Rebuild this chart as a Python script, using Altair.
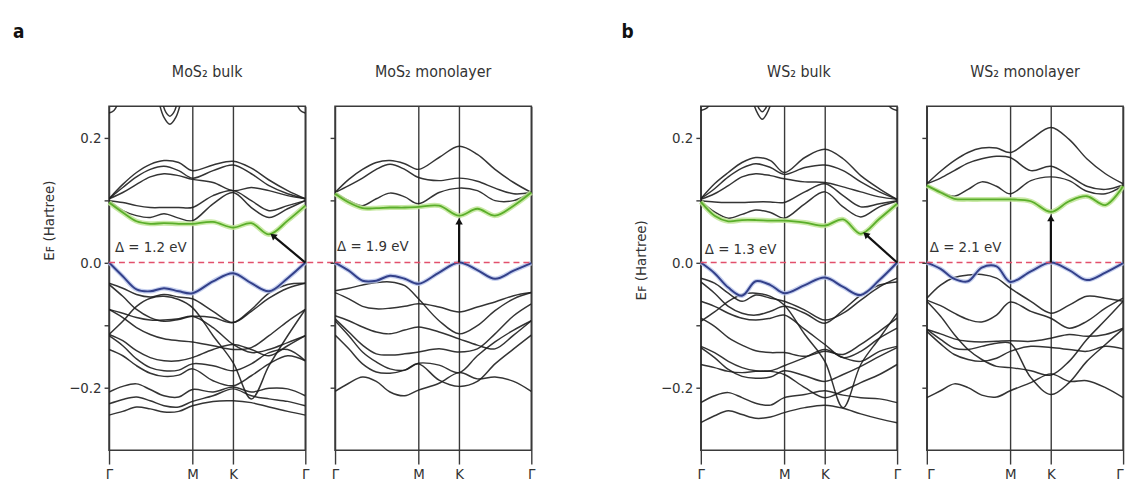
import math
import altair as alt
import pandas as pd

# ---------------- data (energies in Hartree) ----------------
K_FRAC = [0.0, 0.07, 0.14, 0.21, 0.28, 0.355, 0.425, 0.53, 0.632, 0.725, 0.815, 0.91, 1.0]
K_TICKS = [0.0, 0.425, 0.632, 1.0]
K_LABELS = ["Γ", "M", "K", "Γ"]
Y_TICKS = [-0.2, -0.1, 0.0, 0.1, 0.2]
Y_DOMAIN = [-0.30, 0.25]

# ---- MoS2 bulk ----
MOS2_BULK_CB = [
    [0.102, 0.125, 0.144, 0.157, 0.163, 0.160, 0.147, 0.156, 0.162, 0.151, 0.132, 0.115, 0.102],
    [0.102, 0.120, 0.137, 0.149, 0.154, 0.147, 0.135, 0.147, 0.156, 0.142, 0.123, 0.110, 0.102],
    [0.102, 0.112, 0.125, 0.137, 0.142, 0.139, 0.133, 0.128, 0.115, 0.120, 0.115, 0.107, 0.102],
    [0.099, 0.096, 0.091, 0.088, 0.088, 0.088, 0.088, 0.107, 0.115, 0.099, 0.083, 0.091, 0.099],
    [0.099, 0.083, 0.075, 0.072, 0.078, 0.071, 0.067, 0.094, 0.112, 0.088, 0.072, 0.086, 0.099],
]
MOS2_BULK_LCB = [0.096, 0.080, 0.066, 0.062, 0.063, 0.062, 0.062, 0.065, 0.056, 0.063, 0.045, 0.067, 0.091]
MOS2_BULK_HVB = [0.0, -0.022, -0.043, -0.046, -0.041, -0.046, -0.049, -0.030, -0.017, -0.033, -0.046, -0.025, 0.0]
MOS2_BULK_VB = [
    [-0.033, -0.041, -0.051, -0.055, -0.051, -0.055, -0.058, -0.078, -0.096, -0.078, -0.057, -0.041, -0.033],
    [-0.035, -0.054, -0.075, -0.088, -0.094, -0.091, -0.086, -0.088, -0.096, -0.075, -0.049, -0.035, -0.033],
    [-0.115, -0.094, -0.070, -0.057, -0.054, -0.059, -0.072, -0.117, -0.160, -0.218, -0.165, -0.117, -0.075],
    [-0.075, -0.088, -0.104, -0.115, -0.122, -0.125, -0.127, -0.133, -0.139, -0.136, -0.117, -0.094, -0.075],
    [-0.075, -0.081, -0.088, -0.092, -0.092, -0.090, -0.086, -0.104, -0.131, -0.144, -0.139, -0.128, -0.117],
    [-0.115, -0.125, -0.141, -0.152, -0.157, -0.157, -0.152, -0.139, -0.131, -0.139, -0.149, -0.133, -0.117],
    [-0.117, -0.133, -0.154, -0.168, -0.173, -0.172, -0.162, -0.165, -0.173, -0.162, -0.144, -0.139, -0.157],
    [-0.139, -0.149, -0.165, -0.177, -0.182, -0.180, -0.170, -0.189, -0.197, -0.181, -0.162, -0.149, -0.157],
    [-0.207, -0.198, -0.194, -0.203, -0.213, -0.215, -0.203, -0.207, -0.199, -0.207, -0.201, -0.202, -0.213],
    [-0.226, -0.219, -0.215, -0.221, -0.229, -0.231, -0.222, -0.213, -0.202, -0.213, -0.218, -0.222, -0.229],
    [-0.244, -0.238, -0.231, -0.234, -0.239, -0.238, -0.229, -0.222, -0.221, -0.224, -0.231, -0.238, -0.244],
]
MOS2_BULK_HIGH_K = [[0.0, 0.025, 0.05], [0.25, 0.28, 0.31, 0.34, 0.37], [0.27, 0.29, 0.31, 0.33, 0.35], [0.95, 0.975, 1.0]]
MOS2_BULK_HIGH_E = [[0.239, 0.243, 0.258], [0.262, 0.232, 0.221, 0.232, 0.262], [0.258, 0.240, 0.234, 0.240, 0.258], [0.258, 0.243, 0.239]]

# ---- MoS2 monolayer ----
MOS2_MONO_CB = [
    [0.112, 0.133, 0.149, 0.160, 0.163, 0.158, 0.149, 0.168, 0.186, 0.173, 0.149, 0.128, 0.112],
    [0.112, 0.123, 0.135, 0.149, 0.157, 0.149, 0.136, 0.131, 0.135, 0.130, 0.119, 0.110, 0.112],
    [0.112, 0.099, 0.091, 0.102, 0.111, 0.105, 0.094, 0.112, 0.119, 0.115, 0.099, 0.099, 0.112],
]
MOS2_MONO_LCB = [0.110, 0.096, 0.087, 0.087, 0.088, 0.088, 0.089, 0.091, 0.075, 0.086, 0.075, 0.091, 0.112]
MOS2_MONO_HVB = [0.0, -0.013, -0.029, -0.029, -0.021, -0.026, -0.034, -0.016, 0.0, -0.012, -0.026, -0.013, -0.001]
MOS2_MONO_VB = [
    [-0.045, -0.041, -0.036, -0.032, -0.031, -0.037, -0.058, -0.093, -0.114, -0.101, -0.077, -0.058, -0.048],
    [-0.048, -0.058, -0.070, -0.074, -0.073, -0.070, -0.066, -0.071, -0.079, -0.071, -0.063, -0.053, -0.048],
    [-0.085, -0.093, -0.103, -0.111, -0.114, -0.108, -0.103, -0.111, -0.122, -0.132, -0.138, -0.116, -0.093],
    [-0.090, -0.111, -0.132, -0.146, -0.148, -0.146, -0.143, -0.138, -0.143, -0.138, -0.114, -0.085, -0.066],
    [-0.093, -0.117, -0.143, -0.159, -0.170, -0.172, -0.161, -0.164, -0.176, -0.149, -0.127, -0.108, -0.093],
    [-0.116, -0.138, -0.162, -0.175, -0.177, -0.172, -0.162, -0.188, -0.198, -0.190, -0.162, -0.138, -0.116],
    [-0.206, -0.193, -0.183, -0.190, -0.207, -0.213, -0.204, -0.193, -0.176, -0.186, -0.183, -0.190, -0.206],
]

# ---- WS2 bulk ----
WS2_BULK_CB = [
    [0.102, 0.126, 0.144, 0.160, 0.168, 0.163, 0.144, 0.168, 0.181, 0.166, 0.139, 0.118, 0.101],
    [0.102, 0.118, 0.137, 0.151, 0.158, 0.152, 0.141, 0.152, 0.156, 0.147, 0.129, 0.113, 0.101],
    [0.101, 0.110, 0.123, 0.137, 0.142, 0.139, 0.134, 0.129, 0.128, 0.121, 0.113, 0.105, 0.101],
    [0.099, 0.097, 0.096, 0.096, 0.097, 0.097, 0.096, 0.113, 0.126, 0.107, 0.089, 0.094, 0.099],
    [0.098, 0.081, 0.071, 0.077, 0.084, 0.080, 0.071, 0.094, 0.113, 0.089, 0.073, 0.089, 0.098],
]
WS2_BULK_LCB = [0.097, 0.075, 0.066, 0.068, 0.068, 0.067, 0.067, 0.064, 0.059, 0.069, 0.046, 0.070, 0.094]
WS2_BULK_HVB = [0.0, -0.017, -0.040, -0.053, -0.030, -0.036, -0.049, -0.036, -0.024, -0.039, -0.052, -0.028, 0.0]
WS2_BULK_VB = [
    [-0.025, -0.033, -0.049, -0.062, -0.052, -0.057, -0.062, -0.076, -0.092, -0.081, -0.060, -0.039, -0.025],
    [-0.031, -0.049, -0.070, -0.081, -0.084, -0.078, -0.070, -0.081, -0.097, -0.076, -0.052, -0.036, -0.031],
    [-0.094, -0.079, -0.062, -0.051, -0.049, -0.054, -0.068, -0.115, -0.158, -0.232, -0.163, -0.121, -0.081],
    [-0.089, -0.102, -0.120, -0.132, -0.141, -0.144, -0.144, -0.150, -0.142, -0.147, -0.131, -0.110, -0.089],
    [-0.062, -0.070, -0.081, -0.089, -0.092, -0.089, -0.084, -0.107, -0.131, -0.152, -0.142, -0.121, -0.105],
    [-0.134, -0.144, -0.158, -0.168, -0.173, -0.173, -0.165, -0.152, -0.139, -0.152, -0.158, -0.142, -0.134],
    [-0.136, -0.152, -0.171, -0.182, -0.185, -0.183, -0.173, -0.181, -0.190, -0.179, -0.166, -0.150, -0.136],
    [-0.163, -0.168, -0.174, -0.176, -0.174, -0.174, -0.179, -0.200, -0.216, -0.205, -0.192, -0.179, -0.163],
    [-0.224, -0.213, -0.208, -0.216, -0.225, -0.228, -0.216, -0.211, -0.205, -0.212, -0.216, -0.218, -0.224],
    [-0.256, -0.245, -0.237, -0.243, -0.249, -0.247, -0.240, -0.232, -0.228, -0.233, -0.242, -0.250, -0.256],
]
WS2_BULK_HIGH_K = [[0.0, 0.03, 0.06], [0.26, 0.29, 0.313, 0.336, 0.366], [0.28, 0.297, 0.313, 0.329, 0.346], [0.94, 0.97, 1.0]]
WS2_BULK_HIGH_E = [[0.243, 0.247, 0.258], [0.262, 0.238, 0.229, 0.238, 0.262], [0.258, 0.246, 0.241, 0.246, 0.258], [0.258, 0.247, 0.243]]

# ---- WS2 monolayer ----
WS2_MONO_CB = [
    [0.126, 0.146, 0.163, 0.176, 0.183, 0.183, 0.176, 0.197, 0.216, 0.197, 0.166, 0.142, 0.126],
    [0.126, 0.135, 0.147, 0.159, 0.166, 0.170, 0.168, 0.147, 0.154, 0.139, 0.122, 0.117, 0.124],
    [0.124, 0.113, 0.106, 0.117, 0.129, 0.122, 0.110, 0.131, 0.137, 0.131, 0.114, 0.110, 0.123],
]
WS2_MONO_LCB = [0.123, 0.112, 0.102, 0.101, 0.101, 0.101, 0.101, 0.098, 0.081, 0.098, 0.106, 0.092, 0.122]
WS2_MONO_HVB = [0.0, -0.010, -0.026, -0.030, -0.008, -0.006, -0.031, -0.014, 0.0, -0.012, -0.028, -0.016, -0.001]
WS2_MONO_VB = [
    [-0.057, -0.036, -0.024, -0.020, -0.019, -0.025, -0.041, -0.062, -0.081, -0.068, -0.054, -0.057, -0.062],
    [-0.060, -0.069, -0.081, -0.091, -0.095, -0.084, -0.063, -0.078, -0.089, -0.105, -0.094, -0.073, -0.057],
    [-0.107, -0.114, -0.122, -0.126, -0.127, -0.126, -0.125, -0.126, -0.121, -0.115, -0.118, -0.115, -0.105],
    [-0.110, -0.130, -0.147, -0.155, -0.158, -0.153, -0.142, -0.134, -0.136, -0.139, -0.142, -0.134, -0.138],
    [-0.062, -0.086, -0.115, -0.139, -0.155, -0.166, -0.168, -0.173, -0.180, -0.158, -0.123, -0.092, -0.062],
    [-0.216, -0.205, -0.194, -0.200, -0.212, -0.215, -0.205, -0.192, -0.178, -0.190, -0.189, -0.200, -0.216],
    [-0.107, -0.123, -0.137, -0.139, -0.134, -0.129, -0.129, -0.184, -0.211, -0.192, -0.158, -0.131, -0.106],
]

# gap arrows: [k_start, E_start, k_end, E_end]
MOS2_BULK_ARROW = [1.0, 0.0, 0.835, 0.043]
MOS2_MONO_ARROW = [0.632, 0.0, 0.632, 0.066]
WS2_BULK_ARROW = [1.0, 0.0, 0.84, 0.045]
WS2_MONO_ARROW = [0.632, 0.0, 0.632, 0.071]

# gap labels: [text, k, E]
MOS2_BULK_GAP = ["Δ = 1.2 eV", 0.03, 0.025]
MOS2_MONO_GAP = ["Δ = 1.9 eV", 0.01, 0.027]
WS2_BULK_GAP = ["Δ = 1.3 eV", 0.02, 0.022]
WS2_MONO_GAP = ["Δ = 2.1 eV", 0.015, 0.025]

TITLES = ["MoS₂ bulk", "MoS₂ monolayer", "WS₂ bulk", "WS₂ monolayer"]
GROUP_LABELS = ["a", "b"]

# ---------------- styling ----------------
FONT = "Liberation Sans Narrow, DejaVu Sans Condensed, Lato, sans-serif"
PW, PH = 198, 347
GAP = 30
SPACER_W = 111
FRAME = "#3a3a3a"
TEXT = "#333333"
BAND = "#1e1e1e"
GREEN, GREEN_HALO = "#5aae2a", "#bfe596"
BLUE, BLUE_HALO = "#33408a", "#b7c3ea"
ZERO = "#e2506c"


def rows(kind, prefix, bands, ks=None):
    out = []
    for i, b in enumerate(bands):
        kk = K_FRAC if ks is None else ks[i]
        for k, e in zip(kk, b):
            out.append({"kind": kind, "band": f"{prefix}{i}", "k": k, "e": e})
    return out


def x_label_expr():
    parts = []
    for i in range(len(K_TICKS) - 1):
        mid = (K_TICKS[i] + K_TICKS[i + 1]) / 2
        parts.append(f"datum.value < {mid} ? '{K_LABELS[i]}' : ")
    return "".join(parts) + f"'{K_LABELS[-1]}'"


def panel(title, cb, lcb, hvb, vb, arrow, gap, high_k=None, high_e=None,
          bulk=True, zero_ext=0.0, title_y=None, flush=False):
    data = (rows("band", "c", cb) + rows("band", "v", vb)
            + rows("lcb", "g", [lcb]) + rows("hvb", "b", [hvb]))
    if high_k:
        data += rows("band", "h", high_e, high_k)
    df = pd.DataFrame(data)

    xs = alt.Scale(domain=[0, 1], nice=False, zero=False)
    ys = alt.Scale(domain=Y_DOMAIN, nice=False, zero=False)
    x_axis = alt.Axis(values=K_TICKS, labelExpr=x_label_expr(), grid=True, gridColor=FRAME,
                      gridWidth=1.4, tickSize=14, tickColor=FRAME, tickWidth=1.4, domain=False,
                      labelFontSize=15, labelPadding=3, labelColor=TEXT, title=None,
                      labelFlush=flush)
    if bulk:
        y_axis = alt.Axis(values=Y_TICKS,
                          labelExpr="abs(datum.value) < 0.05 || abs(datum.value) > 0.15 ? format(datum.value, '.1f') : ''",
                          tickSize=5, tickColor=FRAME, tickWidth=1.4, domain=False, grid=False,
                          labelFontSize=15, labelPadding=3, labelColor=TEXT,
                          title="Eꜰ (Hartree)", titleFontSize=15, titleFontWeight="normal",
                          titleColor=TEXT, titlePadding=12, titleY=title_y)
    else:
        y_axis = alt.Axis(values=Y_TICKS, labelExpr="''", tickSize=5, tickColor=FRAME,
                          tickWidth=1.4, domain=False, grid=False, title=None)

    base = alt.Chart(df).encode(
        x=alt.X("k:Q", scale=xs, axis=x_axis),
        y=alt.Y("e:Q", scale=ys, axis=y_axis),
        detail="band:N",
    )
    bands = base.transform_filter("datum.kind == 'band'").mark_line(
        interpolate="catmull-rom", color=BAND, strokeWidth=1.5, opacity=0.9, clip=True)
    green_halo = base.transform_filter("datum.kind == 'lcb'").mark_line(
        interpolate="catmull-rom", color=GREEN_HALO, strokeWidth=5, opacity=0.85)
    green = base.transform_filter("datum.kind == 'lcb'").mark_line(
        interpolate="catmull-rom", color=GREEN, strokeWidth=1.8)
    blue_halo = base.transform_filter("datum.kind == 'hvb'").mark_line(
        interpolate="catmull-rom", color=BLUE_HALO, strokeWidth=4.5, opacity=0.8)
    blue = base.transform_filter("datum.kind == 'hvb'").mark_line(
        interpolate="catmull-rom", color=BLUE, strokeWidth=2.0)

    zdf = pd.DataFrame({"k": [0.0], "k2": [1.0 + zero_ext], "e": [0.0]})
    zero = alt.Chart(zdf).mark_rule(color=ZERO, strokeDash=[6, 4], strokeWidth=1.6).encode(
        x="k:Q", x2="k2:Q", y="e:Q")

    k0, e0, k1, e1 = arrow
    dx = (k1 - k0) * PW
    dy = (e1 - e0) * PH / (Y_DOMAIN[1] - Y_DOMAIN[0])
    ang = math.degrees(math.atan2(dx, dy)) % 360
    adf = pd.DataFrame({"k": [k0], "e": [e0], "k2": [k1], "e2": [e1]})
    arrow_line = alt.Chart(adf).mark_rule(color="#111111", strokeWidth=2.2).encode(
        x="k:Q", y="e:Q", x2="k2:Q", y2="e2:Q")
    hdf = pd.DataFrame({"k": [k1], "e": [e1]})
    head = alt.Chart(hdf).mark_point(shape="triangle-up", filled=True, color="#111111",
                                     size=55, angle=ang, opacity=1).encode(x="k:Q", y="e:Q")

    tdf = pd.DataFrame({"k": [gap[1]], "e": [gap[2]], "label": [gap[0]]})
    text = alt.Chart(tdf).mark_text(align="left", baseline="middle", fontSize=15,
                                    color=TEXT).encode(x="k:Q", y="e:Q", text="label:N")

    return alt.layer(bands, green_halo, green, blue_halo, blue, zero, arrow_line, head, text).properties(
        width=PW, height=PH,
        title=alt.TitleParams(text=title, fontSize=16, fontWeight="normal", color=TEXT, offset=26),
    )


pa1 = panel(TITLES[0], MOS2_BULK_CB, MOS2_BULK_LCB, MOS2_BULK_HVB, MOS2_BULK_VB, MOS2_BULK_ARROW,
            MOS2_BULK_GAP, MOS2_BULK_HIGH_K, MOS2_BULK_HIGH_E, bulk=True,
            zero_ext=GAP / PW, title_y=115)
pa2 = panel(TITLES[1], MOS2_MONO_CB, MOS2_MONO_LCB, MOS2_MONO_HVB, MOS2_MONO_VB, MOS2_MONO_ARROW,
            MOS2_MONO_GAP, bulk=False)
pb1 = panel(TITLES[2], WS2_BULK_CB, WS2_BULK_LCB, WS2_BULK_HVB, WS2_BULK_VB, WS2_BULK_ARROW,
            WS2_BULK_GAP, WS2_BULK_HIGH_K, WS2_BULK_HIGH_E, bulk=True,
            zero_ext=GAP / PW, title_y=155)
pb2 = panel(TITLES[3], WS2_MONO_CB, WS2_MONO_LCB, WS2_MONO_HVB, WS2_MONO_VB, WS2_MONO_ARROW,
            WS2_MONO_GAP, bulk=False, flush=True)

# empty spacer between the two figure parts; it also carries the part letters "a" and "b"
ldf = pd.DataFrame({"label": GROUP_LABELS, "px": [-(2 * PW + 2 * GAP) - 97, 61]})
spacer = alt.Chart(ldf).mark_text(align="left", baseline="alphabetic", fontSize=19,
                                  fontWeight="bold", color="#111111").encode(
    x=alt.X("px:Q", scale=None, axis=None), y=alt.value(-69), text="label:N"
).properties(width=SPACER_W, height=PH, view=alt.ViewBackground(stroke="transparent"))

chart = alt.hconcat(pa1, pa2, spacer, pb1, pb2, spacing=GAP, bounds="flush").properties(
    padding={"left": 12, "top": 20, "right": 0, "bottom": 0}
).configure(font=FONT).configure_view(stroke=FRAME, strokeWidth=1.6)

chart.save("out.html", embed_options={"renderer": "svg", "actions": False})
